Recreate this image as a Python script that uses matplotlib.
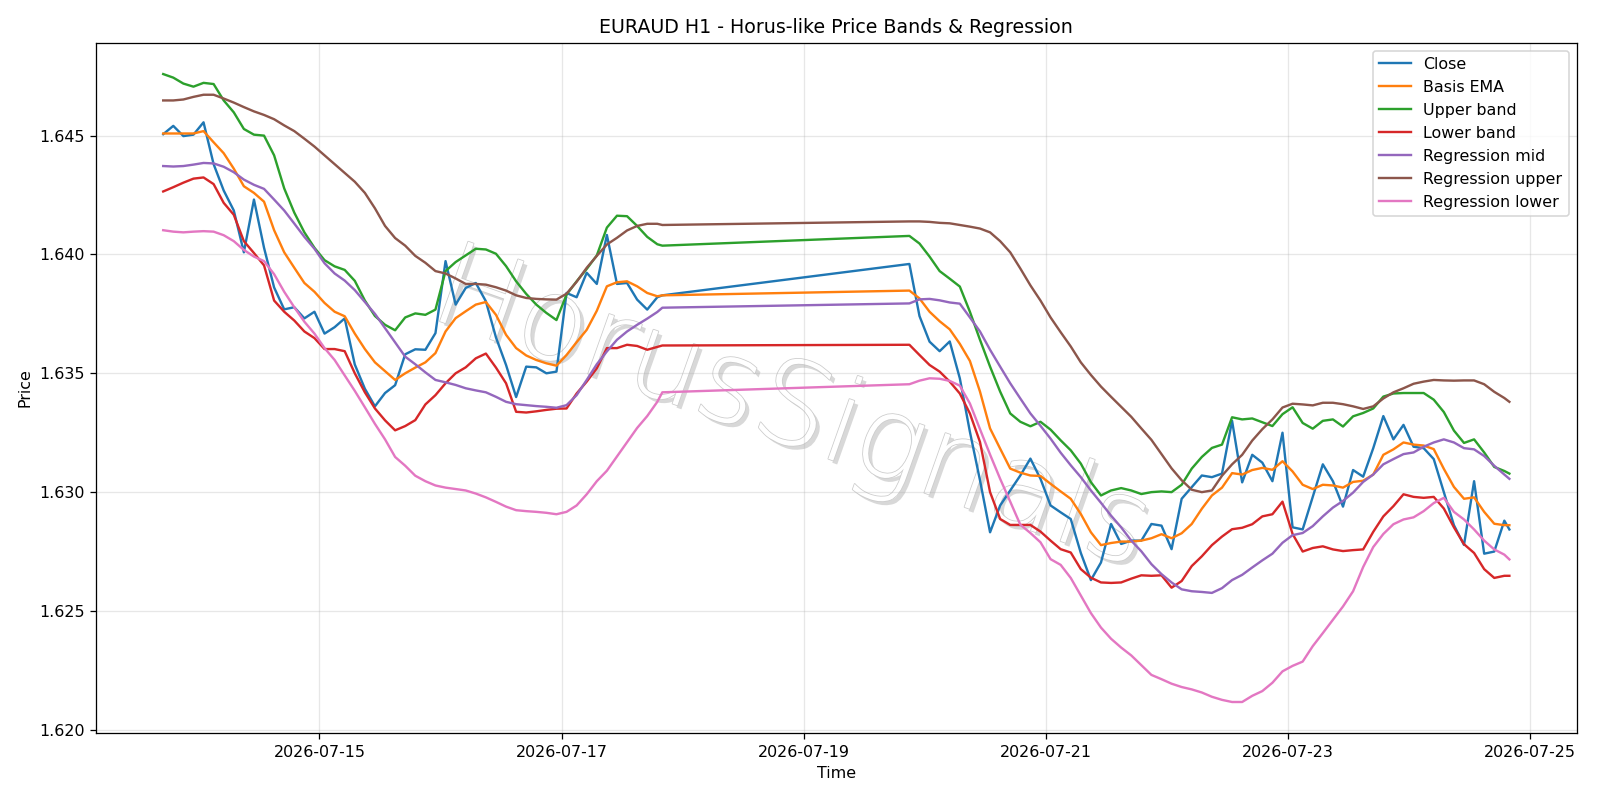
import pandas as pd
import matplotlib
matplotlib.use("Agg")
import matplotlib.pyplot as plt
import matplotlib.dates as mdates
import matplotlib.patheffects as pe

# H1 bars, read every 2 hours; market closed over the weekend
t_week1 = pd.date_range("2026-07-13 17:00", "2026-07-17 19:00", freq="2h").append(
    pd.DatetimeIndex(["2026-07-17 20:00"]))
t_week2 = pd.date_range("2026-07-19 21:00", "2026-07-24 19:00", freq="2h").append(
    pd.DatetimeIndex(["2026-07-24 20:00"]))
times = t_week1.append(t_week2)

close = [
    1.64506, 1.64541, 1.64498, 1.64504, 1.64556, 1.64380, 1.64269, 1.64185, 1.64009, 1.64231,
    1.64028, 1.63861, 1.63769, 1.63778, 1.63731, 1.63759, 1.63667, 1.63694, 1.63731, 1.63537,
    1.63435, 1.63361, 1.63417, 1.63450, 1.63580, 1.63601, 1.63599, 1.63669, 1.63972, 1.63789,
    1.63859, 1.63880, 1.63803, 1.63651, 1.63535, 1.63400, 1.63528, 1.63525, 1.63500, 1.63507,
    1.63838, 1.63820, 1.63923, 1.63876, 1.64082, 1.63876, 1.63880, 1.63810, 1.63768, 1.63820,
    1.63828,
    1.63960, 1.63741, 1.63633, 1.63593, 1.63634, 1.63479, 1.63254, 1.63050, 1.62831, 1.62944,
    1.63007, 1.63070, 1.63141, 1.63056, 1.62944, 1.62915, 1.62887, 1.62744, 1.62630, 1.62704,
    1.62866, 1.62782, 1.62796, 1.62796, 1.62866, 1.62859, 1.62760, 1.62972, 1.63021, 1.63070,
    1.63063, 1.63078, 1.63300, 1.63041, 1.63157, 1.63124, 1.63046, 1.63250, 1.62852, 1.62843,
    1.62980, 1.63117, 1.63046, 1.62939, 1.63093, 1.63065, 1.63185, 1.63320, 1.63222, 1.63283,
    1.63191, 1.63185, 1.63139, 1.63000, 1.62861, 1.62778, 1.63046, 1.62741, 1.62750, 1.62880,
    1.62843,
]

basis_ema = [
    1.64509, 1.64509, 1.64509, 1.64509, 1.64519, 1.64472, 1.64426, 1.64361, 1.64287, 1.64259,
    1.64222, 1.64102, 1.64009, 1.63944, 1.63880, 1.63843, 1.63796, 1.63759, 1.63740, 1.63667,
    1.63602, 1.63546, 1.63509, 1.63472, 1.63500, 1.63524, 1.63546, 1.63585, 1.63676, 1.63732,
    1.63761, 1.63789, 1.63800, 1.63746, 1.63662, 1.63606, 1.63575, 1.63556, 1.63542, 1.63532,
    1.63577, 1.63631, 1.63683, 1.63763, 1.63866, 1.63883, 1.63887, 1.63866, 1.63838, 1.63824,
    1.63828,
    1.63848, 1.63815, 1.63759, 1.63719, 1.63685, 1.63624, 1.63552, 1.63423, 1.63268, 1.63183,
    1.63099, 1.63082, 1.63070, 1.63068, 1.63035, 1.63003, 1.62972, 1.62908, 1.62831, 1.62777,
    1.62786, 1.62792, 1.62792, 1.62796, 1.62806, 1.62823, 1.62806, 1.62827, 1.62866, 1.62930,
    1.62986, 1.63019, 1.63080, 1.63074, 1.63093, 1.63102, 1.63094, 1.63130, 1.63087, 1.63031,
    1.63013, 1.63031, 1.63028, 1.63019, 1.63043, 1.63048, 1.63074, 1.63157, 1.63180, 1.63209,
    1.63200, 1.63196, 1.63181, 1.63098, 1.63022, 1.62972, 1.62978, 1.62917, 1.62867, 1.62861,
    1.62861,
]

upper_band = [
    1.64759, 1.64744, 1.64719, 1.64706, 1.64722, 1.64717, 1.64648, 1.64598, 1.64528, 1.64504,
    1.64500, 1.64417, 1.64278, 1.64176, 1.64093, 1.64028, 1.63976, 1.63950, 1.63935, 1.63889,
    1.63806, 1.63741, 1.63704, 1.63681, 1.63735, 1.63752, 1.63746, 1.63768, 1.63930, 1.63968,
    1.63996, 1.64024, 1.64021, 1.64003, 1.63951, 1.63887, 1.63834, 1.63789, 1.63754, 1.63724,
    1.63831, 1.63887, 1.63939, 1.63996, 1.64113, 1.64163, 1.64161, 1.64120, 1.64074, 1.64043,
    1.64037,
    1.64078, 1.64046, 1.63991, 1.63930, 1.63898, 1.63865, 1.63759, 1.63641, 1.63528, 1.63423,
    1.63331, 1.63296, 1.63277, 1.63296, 1.63263, 1.63218, 1.63176, 1.63120, 1.63042, 1.62986,
    1.63007, 1.63017, 1.63007, 1.62992, 1.63000, 1.63003, 1.63000, 1.63031, 1.63099, 1.63148,
    1.63186, 1.63200, 1.63315, 1.63306, 1.63310, 1.63294, 1.63278, 1.63328, 1.63357, 1.63291,
    1.63267, 1.63300, 1.63306, 1.63276, 1.63319, 1.63333, 1.63352, 1.63402, 1.63415, 1.63417,
    1.63417, 1.63417, 1.63389, 1.63337, 1.63259, 1.63207, 1.63222, 1.63167, 1.63106, 1.63089,
    1.63078,
]

lower_band = [
    1.64265, 1.64283, 1.64302, 1.64319, 1.64324, 1.64296, 1.64217, 1.64167, 1.64056, 1.64006,
    1.63954, 1.63806, 1.63759, 1.63722, 1.63676, 1.63648, 1.63602, 1.63602, 1.63593, 1.63500,
    1.63420, 1.63352, 1.63302, 1.63260, 1.63278, 1.63303, 1.63369, 1.63408, 1.63458, 1.63500,
    1.63525, 1.63563, 1.63583, 1.63524, 1.63458, 1.63338, 1.63335, 1.63340, 1.63346, 1.63351,
    1.63352, 1.63415, 1.63465, 1.63521, 1.63606, 1.63606, 1.63620, 1.63615, 1.63599, 1.63611,
    1.63617,
    1.63620, 1.63577, 1.63535, 1.63507, 1.63465, 1.63415, 1.63331, 1.63211, 1.63000, 1.62887,
    1.62862, 1.62862, 1.62862, 1.62834, 1.62796, 1.62760, 1.62746, 1.62676, 1.62640, 1.62620,
    1.62618, 1.62620, 1.62636, 1.62650, 1.62648, 1.62650, 1.62598, 1.62626, 1.62689, 1.62730,
    1.62777, 1.62813, 1.62844, 1.62850, 1.62865, 1.62898, 1.62907, 1.62960, 1.62824, 1.62750,
    1.62765, 1.62772, 1.62759, 1.62752, 1.62756, 1.62759, 1.62833, 1.62898, 1.62941, 1.62991,
    1.62980, 1.62976, 1.62980, 1.62931, 1.62852, 1.62781, 1.62744, 1.62676, 1.62639, 1.62648,
    1.62648,
]

reg_mid = [
    1.64372, 1.64370, 1.64372, 1.64378, 1.64385, 1.64383, 1.64369, 1.64346, 1.64315, 1.64293,
    1.64276, 1.64231, 1.64185, 1.64130, 1.64074, 1.64024, 1.63963, 1.63920, 1.63890, 1.63850,
    1.63800, 1.63750, 1.63690, 1.63630, 1.63570, 1.63538, 1.63504, 1.63472, 1.63462, 1.63451,
    1.63437, 1.63428, 1.63420, 1.63401, 1.63380, 1.63370, 1.63366, 1.63362, 1.63359, 1.63355,
    1.63366, 1.63408, 1.63472, 1.63538, 1.63592, 1.63641, 1.63676, 1.63704, 1.63730, 1.63758,
    1.63776,
    1.63794, 1.63811, 1.63813, 1.63807, 1.63798, 1.63793, 1.63735, 1.63676, 1.63599, 1.63528,
    1.63458, 1.63394, 1.63331, 1.63279, 1.63225, 1.63166, 1.63113, 1.63063, 1.63007, 1.62955,
    1.62901, 1.62852, 1.62796, 1.62751, 1.62697, 1.62655, 1.62620, 1.62591, 1.62583, 1.62580,
    1.62576, 1.62596, 1.62630, 1.62652, 1.62683, 1.62713, 1.62741, 1.62787, 1.62819, 1.62828,
    1.62857, 1.62898, 1.62935, 1.62963, 1.62998, 1.63043, 1.63074, 1.63117, 1.63139, 1.63160,
    1.63167, 1.63191, 1.63209, 1.63222, 1.63209, 1.63185, 1.63180, 1.63152, 1.63111, 1.63074,
    1.63056,
]

reg_upper = [
    1.64648, 1.64648, 1.64652, 1.64663, 1.64672, 1.64672, 1.64656, 1.64639, 1.64620, 1.64602,
    1.64587, 1.64569, 1.64543, 1.64519, 1.64487, 1.64454, 1.64417, 1.64380, 1.64343, 1.64306,
    1.64259, 1.64194, 1.64120, 1.64069, 1.64037, 1.63994, 1.63965, 1.63930, 1.63920, 1.63899,
    1.63876, 1.63876, 1.63873, 1.63862, 1.63848, 1.63828, 1.63817, 1.63813, 1.63811, 1.63810,
    1.63835, 1.63885, 1.63944, 1.63994, 1.64042, 1.64070, 1.64101, 1.64120, 1.64129, 1.64129,
    1.64124,
    1.64139, 1.64139, 1.64137, 1.64133, 1.64131, 1.64124, 1.64117, 1.64109, 1.64093, 1.64056,
    1.64009, 1.63941, 1.63870, 1.63806, 1.63735, 1.63673, 1.63613, 1.63546, 1.63493, 1.63444,
    1.63401, 1.63359, 1.63317, 1.63268, 1.63220, 1.63160, 1.63100, 1.63050, 1.63010, 1.63000,
    1.63007, 1.63069, 1.63117, 1.63157, 1.63217, 1.63265, 1.63306, 1.63356, 1.63372, 1.63369,
    1.63365, 1.63376, 1.63376, 1.63370, 1.63361, 1.63350, 1.63361, 1.63394, 1.63420, 1.63437,
    1.63456, 1.63465, 1.63472, 1.63470, 1.63469, 1.63470, 1.63470, 1.63454, 1.63422, 1.63396,
    1.63380,
]

reg_lower = [
    1.64102, 1.64096, 1.64093, 1.64096, 1.64098, 1.64096, 1.64081, 1.64056, 1.64019, 1.63991,
    1.63972, 1.63917, 1.63843, 1.63778, 1.63717, 1.63667, 1.63606, 1.63556, 1.63491, 1.63426,
    1.63357, 1.63287, 1.63222, 1.63148, 1.63111, 1.63069, 1.63046, 1.63028, 1.63019, 1.63013,
    1.63007, 1.62994, 1.62978, 1.62959, 1.62939, 1.62924, 1.62920, 1.62917, 1.62913, 1.62907,
    1.62917, 1.62944, 1.62991, 1.63046, 1.63090, 1.63150, 1.63210, 1.63270, 1.63320, 1.63380,
    1.63420,
    1.63454, 1.63469, 1.63479, 1.63477, 1.63468, 1.63448, 1.63373, 1.63265, 1.63158, 1.63056,
    1.62960, 1.62863, 1.62828, 1.62789, 1.62718, 1.62694, 1.62639, 1.62565, 1.62491, 1.62430,
    1.62383, 1.62346, 1.62313, 1.62272, 1.62231, 1.62213, 1.62194, 1.62180, 1.62170, 1.62157,
    1.62139, 1.62126, 1.62117, 1.62117, 1.62143, 1.62163, 1.62198, 1.62246, 1.62269, 1.62287,
    1.62352, 1.62407, 1.62463, 1.62519, 1.62583, 1.62685, 1.62769, 1.62824, 1.62865, 1.62885,
    1.62894, 1.62920, 1.62954, 1.62976, 1.62917, 1.62885, 1.62843, 1.62796, 1.62759, 1.62737,
    1.62717,
]

fig, ax = plt.subplots(figsize=(14, 7))

ax.plot(times, close, label="Close", lw=1.5)
ax.plot(times, basis_ema, label="Basis EMA", lw=1.5)
ax.plot(times, upper_band, label="Upper band", lw=1.5)
ax.plot(times, lower_band, label="Lower band", lw=1.5)
ax.plot(times, reg_mid, label="Regression mid", lw=1.5)
ax.plot(times, reg_upper, label="Regression upper", lw=1.5)
ax.plot(times, reg_lower, label="Regression lower", lw=1.5)

# watermark
ax.text(0.47, 0.465, "HorusSignals", transform=ax.transAxes, fontsize=73,
        fontweight="light", rotation=-19.5, ha="center", va="center",
        color="white", zorder=1,
        path_effects=[pe.SimplePatchShadow(offset=(2.5, -2.5), shadow_rgbFace="0.5", alpha=0.3),
                      pe.Stroke(linewidth=1.0, foreground="#cccccc"),
                      pe.Normal()])

ax.set_title("EURAUD H1 - Horus-like Price Bands & Regression")
ax.set_xlabel("Time")
ax.set_ylabel("Price")
ax.xaxis.set_major_locator(mdates.DayLocator(bymonthday=range(1, 32, 2)))
ax.xaxis.set_major_formatter(mdates.DateFormatter("%Y-%m-%d"))
ax.grid(True, alpha=0.3)
ax.legend(loc="upper right")

fig.tight_layout()
fig.savefig("out.png", dpi=800 / 7)
